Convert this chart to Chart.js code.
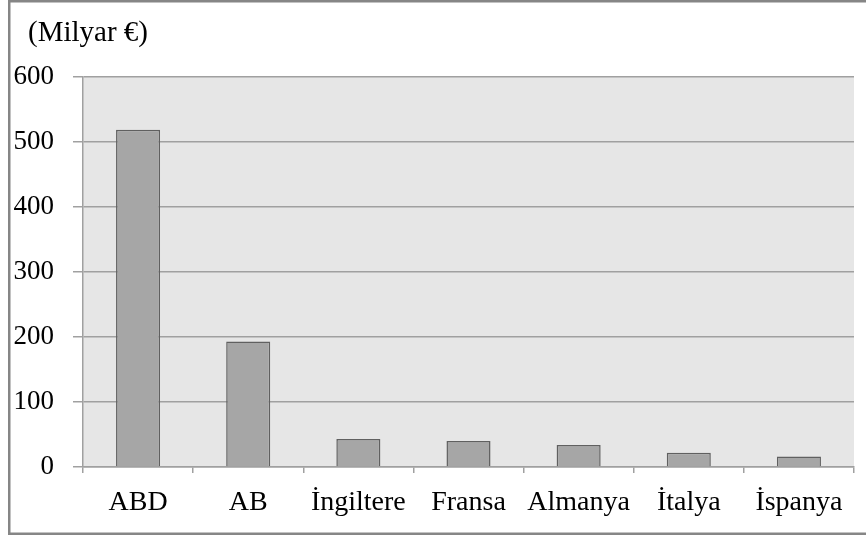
<!DOCTYPE html>
<html>
<head>
<meta charset="utf-8">
<script src="https://cdn.jsdelivr.net/npm/chart.js@4.4.1/dist/chart.umd.min.js"></script>
<style>
html,body{margin:0;padding:0;background:#fff;}
#wrap{width:866px;height:536px;position:relative;}
</style>
</head>
<body>
<div id="wrap"><canvas id="c" width="866" height="536"></canvas></div>
<script>
const categories = ["ABD", "AB", "İngiltere", "Fransa", "Almanya", "İtalya", "İspanya"];
const values = [519, 193, 43, 40, 34, 22, 16];
const unitLabel = "(Milyar €)";
const yMin = 0, yMax = 600, yStep = 100;

const FONT = "'Liberation Serif', 'Times New Roman', serif";

const decor = {
  id: 'decor',
  beforeDraw(chart) {
    const {ctx, chartArea: a} = chart;
    ctx.save();
    ctx.fillStyle = '#e6e6e6';
    ctx.fillRect(a.left, a.top, a.right - a.left, a.bottom - a.top);
    ctx.restore();
  },
  afterDraw(chart) {
    const ctx = chart.ctx;
    ctx.save();
    ctx.strokeStyle = '#868686';
    ctx.lineWidth = 2.5;
    ctx.strokeRect(9.25, 1.25, 870, 532.5);
    ctx.fillStyle = '#000';
    ctx.font = '29px ' + FONT;
    ctx.textBaseline = 'alphabetic';
    ctx.textAlign = 'left';
    ctx.fillText(unitLabel, 28, 41);
    ctx.restore();
  }
};

new Chart(document.getElementById('c'), {
  type: 'bar',
  data: {
    labels: categories,
    datasets: [{
      data: values,
      backgroundColor: '#a6a6a6',
      borderColor: '#606060',
      borderWidth: 1.5,
      categoryPercentage: 0.4,
      barPercentage: 1.0
    }]
  },
  options: {
    responsive: false,
    animation: false,
    devicePixelRatio: 1,
    layout: {padding: {left: 0, right: 12, top: 77, bottom: 0}},
    plugins: {legend: {display: false}, tooltip: {enabled: false}, title: {display: false}},
    scales: {
      x: {
        grid: {display: true, drawOnChartArea: false, drawTicks: true, tickLength: 6, color: '#a0a0a0', lineWidth: 1.5, offset: true},
        border: {display: true, color: '#a0a0a0', width: 1.5},
        ticks: {color: '#000', font: {family: FONT, size: 28}, padding: 13, maxRotation: 0, autoSkip: false},
        afterFit(s) { s.height = 69; }
      },
      y: {
        min: yMin, max: yMax,
        grid: {color: '#a0a0a0', lineWidth: 1.5, drawTicks: true, tickLength: 10},
        border: {display: true, color: '#a0a0a0', width: 1.5},
        ticks: {stepSize: yStep, color: '#000', font: {family: FONT, size: 27}, padding: 19},
        afterFit(s) { s.width = 83; }
      }
    }
  },
  plugins: [decor]
});
</script>
</body>
</html>
